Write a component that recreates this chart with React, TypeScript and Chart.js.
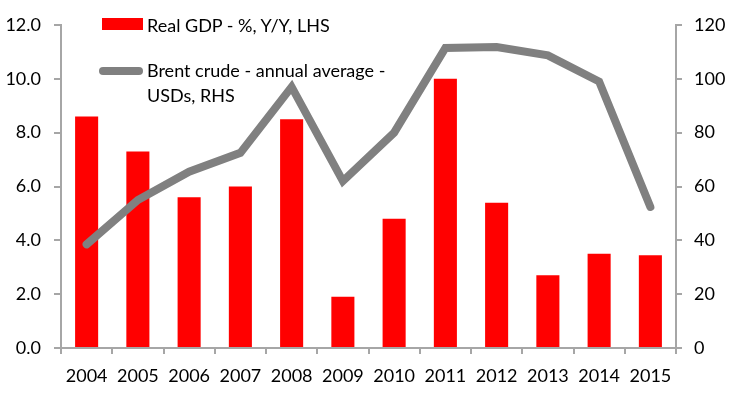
import { useEffect, useRef } from "react"
import { Chart, registerables } from "chart.js"

Chart.register(...registerables)

const years = ["2004", "2005", "2006", "2007", "2008", "2009", "2010", "2011", "2012", "2013", "2014", "2015"]
// Real GDP growth, % y/y (left axis)
const gdpGrowth = [8.6, 7.3, 5.6, 6.0, 8.5, 1.9, 4.8, 10.0, 5.4, 2.7, 3.5, 3.45]
// Brent crude, annual average USD (right axis)
const brentPrice = [38.5, 55, 65.5, 72.5, 97, 62, 80, 111.5, 111.8, 108.7, 99, 52.4]

const FONT = "Lato, 'Open Sans', sans-serif"
const AXIS_GREY = "#a6a6a6"

export default function App() {
  const canvasRef = useRef<HTMLCanvasElement>(null)
  const chartInstance = useRef<Chart | null>(null)

  useEffect(() => {
    if (!canvasRef.current) return
    if (chartInstance.current) chartInstance.current.destroy()

    const ctx = canvasRef.current.getContext("2d")
    if (!ctx) return

    chartInstance.current = new Chart(ctx, {
      type: "bar",
      data: {
        labels: years,
        datasets: [
          {
            type: "line",
            label: "Brent crude - annual average - USDs, RHS",
            data: brentPrice,
            yAxisID: "y1",
            borderColor: "#808080",
            borderWidth: 8,
            borderCapStyle: "round",
            borderJoinStyle: "miter",
            pointRadius: 0,
            tension: 0,
            order: 0,
          },
          {
            type: "bar",
            label: "Real GDP - %, Y/Y, LHS",
            data: gdpGrowth,
            yAxisID: "y",
            backgroundColor: "#ff0000",
            barPercentage: 0.45,
            categoryPercentage: 1,
            order: 1,
          },
        ],
      },
      options: {
        animation: false,
        responsive: true,
        maintainAspectRatio: false,
        layout: { padding: { top: 25, left: 0, right: 0, bottom: 0 } },
        plugins: {
          legend: { display: false },
          tooltip: { enabled: false },
        },
        scales: {
          x: {
            offset: true,
            grid: {
              offset: true,
              drawOnChartArea: false,
              color: AXIS_GREY,
              lineWidth: 2,
              tickLength: 6,
            },
            border: { color: AXIS_GREY, width: 2 },
            ticks: {
              color: "#000",
              font: { family: FONT, size: 18 },
              padding: 11,
              maxRotation: 0,
            },
            afterFit: (scale) => {
              scale.height = 64
            },
          },
          y: {
            position: "left",
            min: 0,
            max: 12,
            grid: {
              drawOnChartArea: false,
              color: AXIS_GREY,
              lineWidth: 2,
              tickLength: 7,
            },
            border: { color: AXIS_GREY, width: 2 },
            ticks: {
              stepSize: 2,
              color: "#000",
              font: { family: FONT, size: 18 },
              padding: 13,
              callback: (v) => Number(v).toFixed(1),
            },
            afterFit: (scale) => {
              scale.width = 61
            },
          },
          y1: {
            position: "right",
            min: 0,
            max: 120,
            grid: {
              drawOnChartArea: false,
              color: AXIS_GREY,
              lineWidth: 2,
              tickLength: 6,
            },
            border: { color: AXIS_GREY, width: 2 },
            ticks: {
              stepSize: 20,
              color: "#000",
              font: { family: FONT, size: 18 },
              padding: 12,
            },
            afterFit: (scale) => {
              scale.width = 55
            },
          },
        },
      },
    })

    return () => {
      if (chartInstance.current) {
        chartInstance.current.destroy()
        chartInstance.current = null
      }
    }
  }, [])

  const textStyle: React.CSSProperties = {
    position: "absolute",
    left: 147,
    fontFamily: FONT,
    fontSize: 18,
    color: "#000",
    whiteSpace: "nowrap",
    lineHeight: "25px",
  }

  return (
    <div style={{ position: "absolute", left: 0, top: 0, width: 731, height: 412, background: "#fff" }}>
      <canvas ref={canvasRef}></canvas>
      <div style={{ position: "absolute", left: 102, top: 18, width: 41, height: 12, background: "#ff0000" }} />
      <div style={{ ...textStyle, top: 13 }}>Real GDP - %, Y/Y, LHS</div>
      <div
        style={{
          position: "absolute",
          left: 99,
          top: 67,
          width: 44,
          height: 8,
          borderRadius: 4,
          background: "#808080",
        }}
      />
      <div style={{ ...textStyle, top: 58 }}>
        Brent crude - annual average -
        <br />
        USDs, RHS
      </div>
    </div>
  )
}
